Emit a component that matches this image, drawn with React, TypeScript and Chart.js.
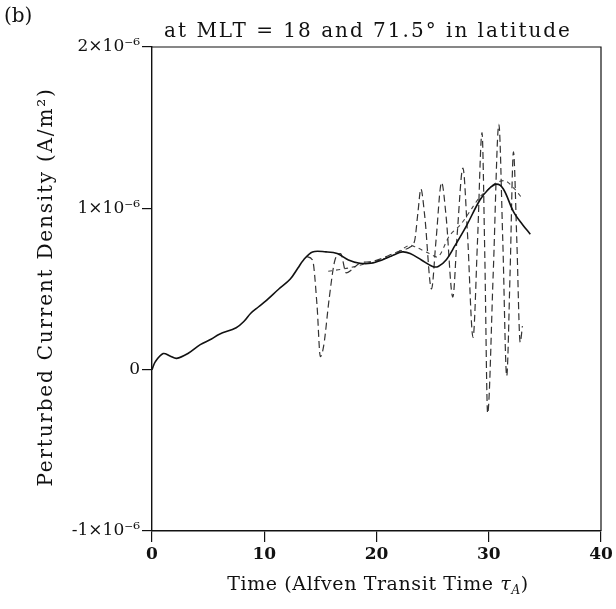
import { useEffect, useRef } from 'react';
import { Chart, registerables } from 'chart.js';
Chart.register(...registerables);

// Values are in units of 1e-6 A/m^2, time in Alfven transit times
const solidT = [0, 0.3, 1.0, 1.6, 2.2, 3.2, 4.3, 5.3, 6.0, 7.5, 8.2, 8.8, 9.5, 10.2, 11.3, 12.3, 13.0, 13.5, 14.3, 15.5, 16.5, 17.5, 18.5, 19.5, 20.5, 21.5, 22.3, 23.0, 24.0, 25.0, 25.5, 26.2, 27.0, 28.0, 29.2, 30.0, 30.7, 31.3, 32.2, 33.0, 33.7];
const solidV = [0.0, 0.05, 0.10, 0.085, 0.07, 0.10, 0.155, 0.19, 0.22, 0.26, 0.30, 0.35, 0.39, 0.43, 0.50, 0.56, 0.63, 0.68, 0.73, 0.73, 0.72, 0.68, 0.66, 0.66, 0.68, 0.71, 0.73, 0.72, 0.68, 0.64, 0.64, 0.68, 0.77, 0.89, 1.05, 1.12, 1.15, 1.12, 0.98, 0.90, 0.84];

const oscT = [13.8, 14.3, 14.7, 15.0, 15.3, 15.8, 16.3, 16.8, 17.3, 17.8, 18.5, 19.5, 20.5, 21.5, 22.3, 23.0, 23.4, 23.7, 23.95, 24.3, 24.9, 25.3, 25.8, 26.2, 26.8, 27.2, 27.7, 28.1, 28.6, 29.0, 29.4, 29.65, 29.9, 30.4, 30.9, 31.25, 31.6, 31.9, 32.2, 32.5, 32.8, 33.0];
const oscV = [0.70, 0.68, 0.40, 0.08, 0.15, 0.45, 0.68, 0.72, 0.60, 0.62, 0.66, 0.67, 0.69, 0.72, 0.74, 0.76, 0.80, 0.98, 1.12, 0.95, 0.50, 0.80, 1.16, 0.95, 0.45, 0.85, 1.25, 0.85, 0.20, 0.80, 1.47, 0.70, -0.27, 0.60, 1.52, 0.80, -0.04, 0.60, 1.35, 0.80, 0.17, 0.27];

const shortT = [15.7, 17.5, 19.2, 21.2, 22.9, 23.5, 24.7, 25.5, 26.5, 27.5, 28.5, 29.2, 30.0, 30.7, 31.5, 32.3, 33.0];
const shortV = [0.61, 0.63, 0.66, 0.70, 0.77, 0.76, 0.72, 0.70, 0.83, 0.90, 1.00, 1.07, 1.12, 1.16, 1.17, 1.12, 1.06];

const xTicks = [0, 10, 20, 30, 40];
const yTicks = [-1, 0, 1, 2];
const yTickLabels = ['-1×10⁻⁶', '0', '1×10⁻⁶', '2×10⁻⁶'];

const titleText = 'at MLT = 18 and 71.5° in latitude';
const panelLabel = '(b)';
const yTitle = 'Perturbed Current Density (A/m²)';
const xTitleMain = 'Time (Alfven Transit Time ';

const SERIF = '"DejaVu Serif", "Liberation Serif", serif';

const toXY = (ts: number[], vs: number[]) => ts.map((t, i) => ({ x: t, y: vs[i] }));

const decorPlugin = {
  id: 'decor',
  afterDraw(chart: any) {
    const { ctx, chartArea: a } = chart;
    ctx.save();
    ctx.strokeStyle = '#111';
    ctx.lineWidth = 1.2;
    ctx.beginPath();
    ctx.moveTo(a.left, a.top);
    ctx.lineTo(a.right, a.top);
    ctx.lineTo(a.right, a.bottom);
    ctx.stroke();

    ctx.fillStyle = '#111';
    ctx.textBaseline = 'alphabetic';
    ctx.font = `20px ${SERIF}`;
    ctx.textAlign = 'left';
    ctx.fillText(panelLabel, 4, 22);

    ctx.font = `20px ${SERIF}`;
    ctx.letterSpacing = '2px';
    ctx.textAlign = 'center';
    ctx.fillText(titleText, 368, 37);

    // x title with subscript
    ctx.letterSpacing = '0.6px';
    ctx.font = `19px ${SERIF}`;
    const wMain = ctx.measureText(xTitleMain).width;
    ctx.font = `italic 19px ${SERIF}`;
    const wTau = ctx.measureText('τ').width;
    ctx.font = `italic 12px ${SERIF}`;
    const wSub = ctx.measureText('A').width;
    ctx.font = `19px ${SERIF}`;
    const wClose = ctx.measureText(')').width;
    const total = wMain + wTau + wSub + wClose;
    let x = 378 - total / 2;
    const yb = 590;
    ctx.textAlign = 'left';
    ctx.font = `19px ${SERIF}`;
    ctx.fillText(xTitleMain, x, yb); x += wMain;
    ctx.font = `italic 19px ${SERIF}`;
    ctx.fillText('τ', x, yb); x += wTau;
    ctx.font = `italic 12px ${SERIF}`;
    ctx.fillText('A', x, yb + 4); x += wSub;
    ctx.font = `19px ${SERIF}`;
    ctx.fillText(')', x, yb);

    // y title
    ctx.translate(52, 287);
    ctx.rotate(-Math.PI / 2);
    ctx.textAlign = 'center';
    ctx.letterSpacing = '1.8px';
    ctx.font = `20px ${SERIF}`;
    ctx.fillText(yTitle, 0, 0);
    ctx.restore();
  },
};

export default function App() {
  const ref = useRef<HTMLCanvasElement>(null);
  useEffect(() => {
    const chart = new Chart(ref.current as HTMLCanvasElement, {
      type: 'line',
      data: {
        datasets: [
          {
            data: toXY(solidT, solidV),
            borderColor: '#111',
            borderWidth: 1.6,
            pointRadius: 0,
            tension: 0.35,
          },
          {
            data: toXY(oscT, oscV),
            borderColor: '#333',
            borderWidth: 1.2,
            borderDash: [7, 4],
            pointRadius: 0,
            cubicInterpolationMode: 'monotone',
          },
          {
            data: toXY(shortT, shortV),
            borderColor: '#444',
            borderWidth: 1.1,
            borderDash: [4, 4],
            pointRadius: 0,
            tension: 0.3,
          },
        ],
      },
      options: {
        animation: false,
        responsive: false,
        layout: { padding: { top: 47, right: 15, left: 0, bottom: 0 } },
        plugins: { legend: { display: false }, tooltip: { enabled: false }, title: { display: false } },
        scales: {
          x: {
            type: 'linear',
            min: 0,
            max: 40,
            afterFit: (s: any) => { s.height = 78; },
            afterBuildTicks: (s: any) => { s.ticks = xTicks.map((v) => ({ value: v })); },
            ticks: {
              color: '#111',
              font: { family: SERIF, size: 17, weight: 'bold' },
              padding: 2,
              maxRotation: 0,
              callback: (v: any) => String(v),
            },
            grid: { display: true, drawOnChartArea: false, drawTicks: true, tickLength: 11, color: '#111', lineWidth: 1.2 },
            border: { display: true, color: '#111', width: 1.4 },
          },
          y: {
            type: 'linear',
            min: -1,
            max: 2,
            afterFit: (s: any) => { s.width = 152; },
            afterBuildTicks: (s: any) => { s.ticks = yTicks.map((v) => ({ value: v })); },
            ticks: {
              color: '#111',
              font: { family: SERIF, size: 17 },
              padding: 2,
              callback: (v: any) => yTickLabels[yTicks.indexOf(Number(v))] ?? '',
            },
            grid: { display: true, drawOnChartArea: false, drawTicks: true, tickLength: 10, color: '#111', lineWidth: 1.2 },
            border: { display: true, color: '#111', width: 1.4 },
          },
        },
      },
      plugins: [decorPlugin],
    } as any);
    return () => chart.destroy();
  }, []);
  return (
    <div style={{ position: 'absolute', left: 0, top: 0, width: 616, height: 609, background: '#fff' }}>
      <canvas ref={ref} width={616} height={609} />
    </div>
  );
}
